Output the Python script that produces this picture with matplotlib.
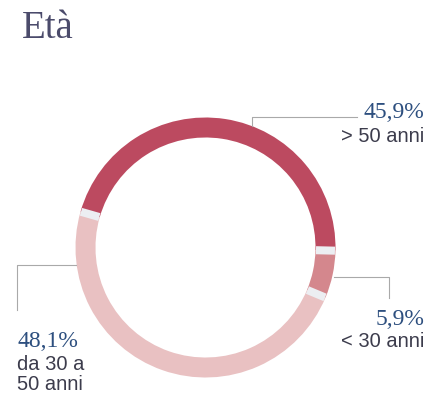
import numpy as np
import matplotlib
matplotlib.use("Agg")
import matplotlib.pyplot as plt

# age groups
groups = ["> 50 anni", "< 30 anni", "da 30 a\n50 anni"]
shares = [45.9, 5.9, 48.1]
share_labels = ["45,9%", "5,9%", "48,1%"]
colors = ["#bc4a60", "#d4878d", "#e9c1c2"]

W, H = 433, 398
GAP = "#eceef2"
BLUE = "#2d4f7f"
GREY_TXT = "#3c3c4c"
LINE = "#a9a9a9"


def py(y):
    # image-style y (top down) -> axes y
    return H - y


fig = plt.figure(figsize=(W / 100, H / 100), dpi=100)
ax = fig.add_axes([0, 0, 1, 1])

cx, cy = 205.5, py(247.5)
R, ring = 130, 20
start = 164

ax.pie(shares, colors=colors, startangle=start, counterclock=False,
       radius=R, center=(cx, cy), wedgeprops=dict(width=ring, linewidth=0))

# separators between slices
bounds = start - 360 * np.cumsum(shares) / sum(shares)
for a in bounds:
    t = np.deg2rad(a)
    r = np.array([R - ring + 0.5, R - 0.5])
    ax.plot(cx + r * np.cos(t), cy + r * np.sin(t), color=GAP, lw=5.8,
            solid_capstyle="butt")

ax.set_xlim(0, W)
ax.set_ylim(0, H)
ax.set_aspect("equal")
ax.axis("off")

# leader lines
leaders = [
    ([252, 252, 357], [126, 117, 117]),
    ([334, 389, 389], [277, 277, 298]),
    ([76, 17, 17], [265, 265, 310]),
]
for xs, ys in leaders:
    ax.plot(xs, [py(v) for v in ys], color=LINE, lw=0.8)

serif = "Liberation Serif"
sans = "Liberation Sans"

ax.text(22, py(38), "Età", fontsize=28, family=serif, color="#4b4b6b",
        va="baseline", ha="left")

# value + label placement (baseline of value, baseline of last label line)
spots = [(424, 118, 142, "right"), (424, 325, 347, "right"), (17, 347, 390, "left")]
for (x, yv, yl, ha), pct, name in zip(spots, share_labels, groups):
    ax.text(x, py(yv), pct, fontsize=17, family=serif, color=BLUE,
            ha=ha, va="baseline")
    ax.text(x, py(yl), name, fontsize=14.5, family=sans, color=GREY_TXT,
            ha=ha, va="baseline", linespacing=1.05, multialignment=ha)

fig.savefig("out.png", dpi=100)
